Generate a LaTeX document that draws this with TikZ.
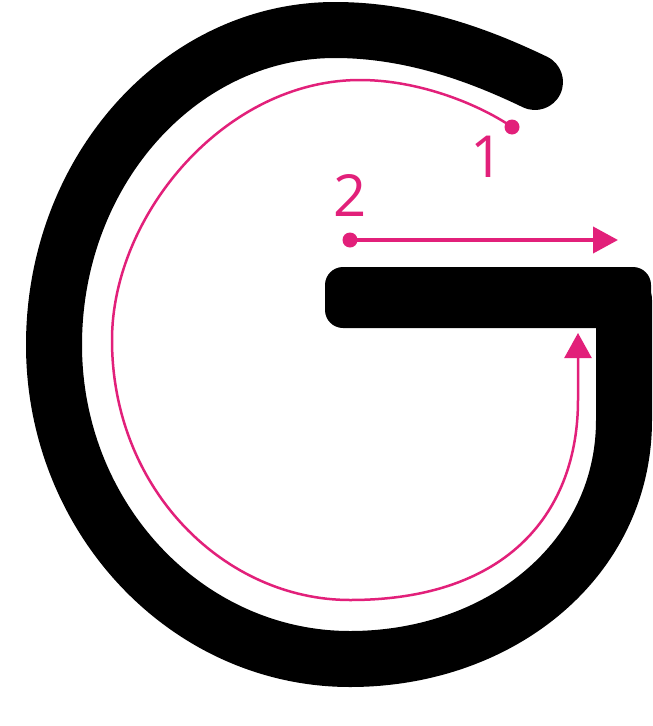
\documentclass[tikz,border=0pt]{standalone}
\usepackage{fontspec}
\setmainfont{Open Sans}
\usetikzlibrary{arrows.meta}
\definecolor{gpink}{RGB}{226,32,122}
\begin{document}
\begin{tikzpicture}[x=1pt,y=-1pt,
  glyph/.style={draw=black, line width=56pt, line cap=round, line join=round},
  barbox/.style={fill=black, rounded corners=18pt},
  dotnode/.style={circle, fill=gpink, inner sep=0pt, minimum size=15pt},
  strokeone/.style={draw=gpink, line width=2.5pt, -{Triangle[length=25pt,width=27pt]}},
  stroketwo/.style={draw=gpink, line width=4pt, -{Triangle[length=25pt,width=26pt]}},
  lbl/.style={text=gpink, inner sep=0pt, font=\fontsize{58}{58}\selectfont}
]
\useasboundingbox (0,0) rectangle (653,726);
\fill[white] (0,0) rectangle (653,726);
% letter G
\draw[glyph] (624,300) -- (624,420)
  .. controls (624,560) and (500,659) .. (350,659)
  .. controls (187,659) and (54,518) .. (54,345)
  .. controls (54,171) and (180,30) .. (335,30)
  .. controls (415,30) and (485,58) .. (535,82);
\fill[barbox] (325,267) rectangle (651,328);
% stroke 1
\node[dotnode] (s1) at (512,127) {};
\coordinate (e1) at (578,333);
\draw[strokeone] (s1.center)
  .. controls (480,105) and (420,80) .. (360,80)
  .. controls (225,80) and (112,215) .. (112,340)
  .. controls (112,490) and (225,600) .. (350,600)
  .. controls (510,600) and (578,510) .. (578,400)
  -- (e1);
% stroke 2
\node[dotnode] (s2) at (350,240) {};
\coordinate (e2) at (618,240);
\draw[stroketwo] (s2.center) -- (e2);
% labels
\node[lbl] (l1) at (487,157) {1};
\node[lbl] (l2) at (350,195) {2};
\end{tikzpicture}
\end{document}
